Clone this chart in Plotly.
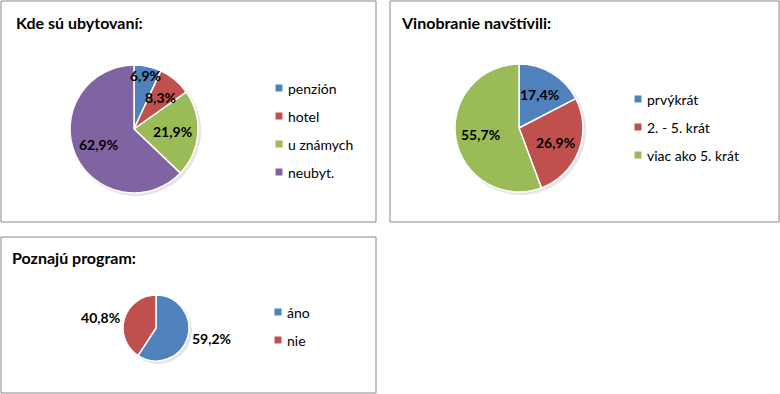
import math
import plotly.graph_objects as go

W, H = 780, 394

# ---- data ----
titles = ["Kde sú ubytovaní:", "Vinobranie navštívili:", "Poznajú program:"]

labels1 = ["penzión", "hotel", "u známych", "neubyt."]
values1 = [6.9, 8.3, 21.9, 62.9]

labels2 = ["prvýkrát", "2. - 5. krát", "viac ako 5. krát"]
values2 = [17.4, 26.9, 55.7]

labels3 = ["áno", "nie"]
values3 = [59.2, 40.8]

colors = ["#4F81BD", "#C0504D", "#9BBB59", "#8064A2"]

FONT = "Lato, 'Open Sans', sans-serif"


def px_x(x):
    return x / W


def px_y(y):
    return 1 - y / H


def dom(cx, cy, r):
    return dict(x=[px_x(cx - r), px_x(cx + r)], y=[px_y(cy + r), px_y(cy - r)])


def fmt(v):
    return f"{v:.1f}%".replace(".", ",")


fig = go.Figure()

# (labels, values, geometry, label mode, radial label factors for inside labels)
pies = [
    (labels1, values1, (134, 129, 64), "inside", [0.86, 0.65, 0.6, 0.6]),
    (labels2, values2, (519, 128, 64), "inside", [0.62, 0.61, 0.61]),
    (labels3, values3, (156, 328, 33), "outside", None),
]

lab_font = dict(family=FONT, size=14, color="black", weight="bold")

for labs, vals, (cx, cy, r), tp, fac in pies:
    # soft shadow
    fig.add_shape(type="circle", xref="paper", yref="paper",
                  x0=px_x(cx - r + 1), x1=px_x(cx + r + 3),
                  y0=px_y(cy + r + 3), y1=px_y(cy - r + 1),
                  fillcolor="rgba(0,0,0,0.10)", line=dict(width=0), layer="below")
    fig.add_trace(go.Pie(
        labels=labs, values=vals, sort=False, direction="clockwise", rotation=0,
        marker=dict(colors=colors[:len(vals)], line=dict(color="white", width=1.5)),
        text=[fmt(v) for v in vals],
        textinfo="text" if tp == "outside" else "none",
        textposition="outside" if tp == "outside" else "none",
        textfont=lab_font,
        domain=dom(cx, cy, r), showlegend=False, hoverinfo="label+percent",
    ))
    if tp == "inside":
        total = sum(vals)
        cum = 0.0
        for v, f in zip(vals, fac):
            mid = (cum + v / 2) / total * 2 * math.pi
            cum += v
            x = cx + f * r * math.sin(mid)
            y = cy - f * r * math.cos(mid)
            fig.add_annotation(text=fmt(v), x=px_x(x), y=px_y(y), xref="paper", yref="paper",
                               xanchor="center", yanchor="middle", showarrow=False,
                               font=lab_font)

# boxes
boxes = [(1, 1, 376, 222), (390, 1, 779, 222), (1, 237, 376, 393)]
for x0, y0, x1, y1 in boxes:
    fig.add_shape(type="rect", xref="paper", yref="paper",
                  x0=px_x(x0), x1=px_x(x1), y0=px_y(y1), y1=px_y(y0),
                  line=dict(color="#878787", width=1), fillcolor="rgba(0,0,0,0)")

# titles
title_pos = [(14, 22), (399, 22), (10, 257)]
for t, (x, y) in zip(titles, title_pos):
    fig.add_annotation(text=t, x=px_x(x), y=px_y(y), xref="paper", yref="paper",
                       xanchor="left", yanchor="middle", showarrow=False,
                       font=dict(family=FONT, size=16, color="black", weight="bold"))

# legends (manual)
legends = [(labels1, 279, 88, 28), (labels2, 638, 99, 28), (labels3, 278, 312, 28)]
for labs, mx, my, step in legends:
    for i, lab in enumerate(labs):
        y = my + i * step
        fig.add_shape(type="rect", xref="paper", yref="paper",
                      x0=px_x(mx - 3.5), x1=px_x(mx + 3.5),
                      y0=px_y(y + 3.5), y1=px_y(y - 3.5),
                      fillcolor=colors[i], line=dict(width=0))
        fig.add_annotation(text=lab, x=px_x(mx + 7), y=px_y(y), xref="paper", yref="paper",
                           xanchor="left", yanchor="middle", showarrow=False,
                           font=dict(family=FONT, size=14, color="black"))

fig.update_layout(
    width=W, height=H, margin=dict(l=0, r=0, t=0, b=0),
    paper_bgcolor="white", plot_bgcolor="white",
)

fig.write_html("out.html", config={"displayModeBar": False},
               post_script="document.body.style.margin='0';document.body.style.overflow='hidden';")
